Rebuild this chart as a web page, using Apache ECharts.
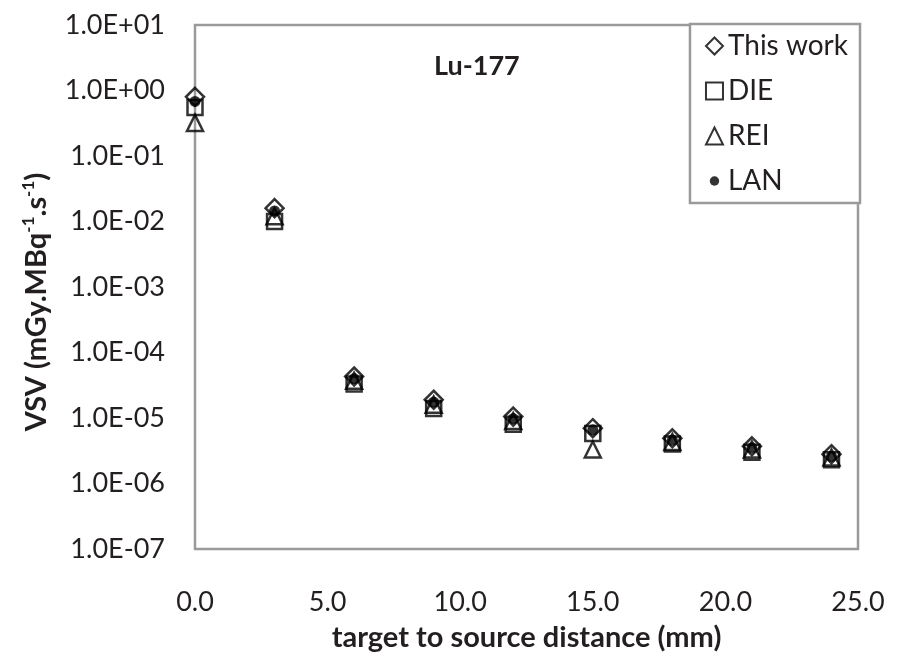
<!DOCTYPE html>
<html>
<head>
<meta charset="utf-8">
<script src="https://cdn.jsdelivr.net/npm/echarts@6/dist/echarts.min.js"></script>
<style>
  html, body { margin: 0; padding: 0; background: #fff; }
  #chart { width: 899px; height: 657px; }
</style>
</head>
<body>
<div id="chart"></div>
<script>
// target to source distance (mm)
const distances = [0, 3, 6, 9, 12, 15, 18, 21, 24]
// VSV values (mGy.MBq-1.s-1)
const thisWork = [0.8, 1.6e-2, 4.3e-5, 1.9e-5, 1.05e-5, 7.0e-6, 4.9e-6, 3.7e-6, 2.8e-6]
const die = [0.55, 1.0e-2, 3.3e-5, 1.4e-5, 8.0e-6, 5.8e-6, 4.0e-6, 3.0e-6, 2.3e-6]
const rei = [0.32, 1.2e-2, 3.7e-5, 1.6e-5, 9.0e-6, 3.3e-6, 4.3e-6, 3.3e-6, 2.5e-6]
const lan = [0.68, 1.45e-2, 4.0e-5, 1.75e-5, 9.8e-6, 6.6e-6, 4.6e-6, 3.5e-6, 2.6e-6]

const font = 'Lato, "Open Sans", sans-serif'
const ink = '#231f20'
// small dot inside an 18x18 box, so the legend keeps it small
const smallDot = 'path://M0 0M18 18M4 9A5 5 0 1 1 14 9A5 5 0 1 1 4 9Z'

function pairs (ys) {
  return distances.map((x, i) => [x, ys[i]])
}

function expLabel (v) {
  const e = Math.round(Math.log10(v))
  const a = Math.abs(e)
  return '1.0E' + (e < 0 ? '-' : '+') + (a < 10 ? '0' : '') + a
}

const hollow = {
  color: 'rgba(0,0,0,0)',
  borderColor: '#000',
  borderWidth: 2.5
}

const chart = echarts.init(document.getElementById('chart'))

const option = {
  animation: false,
  backgroundColor: '#fff',
  textStyle: { fontFamily: font, color: ink },
  title: {
    text: 'Lu-177',
    left: 429,
    top: 48,
    textStyle: { fontFamily: font, fontWeight: 'bold', fontSize: 27, color: ink }
  },
  grid: {
    left: 195,
    right: 41,
    top: 25,
    bottom: 96,
    show: true,
    borderColor: '#9a9a9a',
    borderWidth: 2.5
  },
  legend: {
    orient: 'vertical',
    right: 39,
    top: 24,
    padding: [7, 12, 7, 15],
    itemGap: 15,
    itemWidth: 17,
    itemHeight: 17,
    borderColor: '#9a9a9a',
    borderWidth: 2.5,
    backgroundColor: '#fff',
    textStyle: { fontFamily: font, fontSize: 28, color: ink, lineHeight: 30 },
    data: [
      'This work',
      'DIE',
      'REI',
      { name: 'LAN', icon: smallDot }
    ]
  },
  xAxis: {
    type: 'value',
    min: 0,
    max: 25,
    interval: 5,
    name: 'target to source distance (mm)',
    nameLocation: 'middle',
    nameGap: 74,
    nameTextStyle: { fontFamily: font, fontWeight: 'bold', fontSize: 29, color: ink },
    axisLine: { show: false },
    axisTick: { show: false },
    splitLine: { show: false },
    axisLabel: {
      margin: 40,
      fontSize: 27,
      color: ink,
      formatter: v => v.toFixed(1)
    }
  },
  yAxis: {
    type: 'log',
    logBase: 10,
    min: 1e-7,
    max: 10,
    splitNumber: 8,
    name: 'VSV (mGy.MBq{sup|-1}.s{sup|-1})',
    nameLocation: 'middle',
    nameGap: 140,
    nameTextStyle: {
      fontFamily: font,
      fontWeight: 'bold',
      fontSize: 29,
      color: ink,
      lineHeight: 34,
      padding: [0, 30, 0, 0],
      rich: {
        sup: {
          fontFamily: font,
          fontWeight: 'bold',
          fontSize: 17,
          color: ink,
          lineHeight: 20,
          verticalAlign: 'top'
        }
      }
    },
    axisLine: { show: false },
    axisTick: { show: false },
    splitLine: { show: false },
    minorTick: { show: false },
    axisLabel: {
      margin: 30,
      fontSize: 27,
      color: ink,
      formatter: expLabel
    }
  },
  series: [
    {
      name: 'This work',
      type: 'scatter',
      symbol: 'diamond',
      symbolSize: 18,
      itemStyle: hollow,
      data: pairs(thisWork)
    },
    {
      name: 'DIE',
      type: 'scatter',
      symbol: 'rect',
      symbolSize: 15,
      itemStyle: hollow,
      data: pairs(die)
    },
    {
      name: 'REI',
      type: 'scatter',
      symbol: 'triangle',
      symbolSize: 16,
      itemStyle: hollow,
      data: pairs(rei)
    },
    {
      name: 'LAN',
      type: 'scatter',
      symbol: 'circle',
      symbolSize: 11,
      itemStyle: { color: '#000' },
      data: pairs(lan)
    }
  ]
}

chart.setOption(option)
window.addEventListener('resize', () => chart.resize())
</script>
</body>
</html>
